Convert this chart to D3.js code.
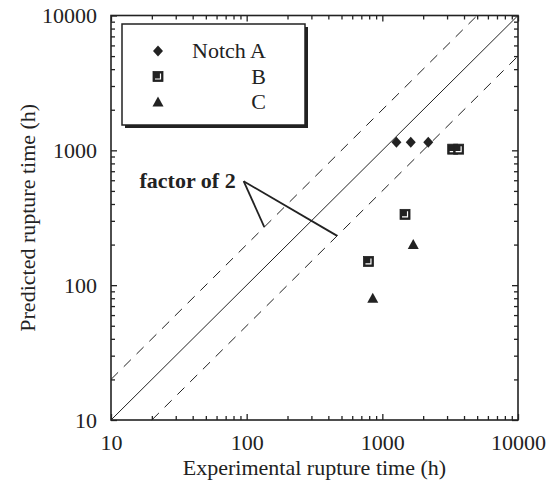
<!DOCTYPE html>
<html>
<head>
<meta charset="utf-8">
<script src="https://cdn.jsdelivr.net/npm/d3@7"></script>
<style>
  body { margin: 0; background: #fff; }
  text { font-family: "Liberation Serif", "Times New Roman", serif; fill: #222; }
</style>
</head>
<body>
<div id="chart"></div>
<script>
// ---- data (experimental h, predicted h)
const notchA = [[1270, 1150], [1620, 1150], [2180, 1150]];
const notchB = [[3300, 1020], [3650, 1020], [1470, 335], [790, 150]];
const notchC = [[1690, 200], [850, 80]];
const majorTicks = [10, 100, 1000, 10000];
const legendLabels = ["Notch A", "B", "C"];
// reference lines y = ratio * x
const refLines = [
  { ratio: 1, from: 10, to: 10000, dashed: false },
  { ratio: 2, from: 10, to: 5000, dashed: true },
  { ratio: 0.5, from: 20, to: 10000, dashed: true }
];
const factorText = "factor of 2";
const factorApex = [95, 590];
const factorTargets = [[135, 270], [465, 232]];

// ---- layout
const W = 560, H = 492;
const margin = { top: 15.5, right: 42, bottom: 72, left: 111 };
const width = W - margin.left - margin.right;
const height = H - margin.top - margin.bottom;
const ink = "#222";

const svg = d3.select("#chart").append("svg")
  .attr("width", W).attr("height", H);
const g = svg.append("g")
  .attr("transform", `translate(${margin.left},${margin.top})`);

const x = d3.scaleLog().domain([10, 10000]).range([0, width]);
const y = d3.scaleLog().domain([10, 10000]).range([height, 0]);

// minor ticks 2..9 per decade
const minorTicks = [];
[10, 100, 1000].forEach(d => { for (let k = 2; k <= 9; k++) minorTicks.push(d * k); });

function styleAxis(sel) {
  sel.select(".domain").remove();
  sel.selectAll("line").attr("stroke", ink).attr("stroke-width", 1.3);
}

// bottom
g.append("g").attr("transform", `translate(0,${height})`)
  .call(d3.axisBottom(x).tickValues(majorTicks).tickSize(-6).tickPadding(14).tickFormat(d3.format("d")))
  .call(styleAxis)
  .selectAll("text").attr("font-size", 22).attr("fill", ink)
  .style("font-family", '"Liberation Serif", serif');
g.append("g").attr("transform", `translate(0,${height})`)
  .call(d3.axisBottom(x).tickValues(minorTicks).tickSize(-4).tickFormat(""))
  .call(styleAxis);
// top
g.append("g")
  .call(d3.axisTop(x).tickValues(majorTicks).tickSize(-6).tickFormat(""))
  .call(styleAxis);
g.append("g")
  .call(d3.axisTop(x).tickValues(minorTicks).tickSize(-4).tickFormat(""))
  .call(styleAxis);
// left
g.append("g")
  .call(d3.axisLeft(y).tickValues(majorTicks).tickSize(-6).tickPadding(14).tickFormat(d3.format("d")))
  .call(styleAxis)
  .selectAll("text").attr("font-size", 22).attr("fill", ink)
  .style("font-family", '"Liberation Serif", serif');
g.append("g")
  .call(d3.axisLeft(y).tickValues(minorTicks).tickSize(-4).tickFormat(""))
  .call(styleAxis);
// right
g.append("g").attr("transform", `translate(${width},0)`)
  .call(d3.axisRight(y).tickValues(majorTicks).tickSize(-6).tickFormat(""))
  .call(styleAxis);
g.append("g").attr("transform", `translate(${width},0)`)
  .call(d3.axisRight(y).tickValues(minorTicks).tickSize(-4).tickFormat(""))
  .call(styleAxis);

// frame
g.append("rect")
  .attr("width", width).attr("height", height)
  .attr("fill", "none").attr("stroke", ink).attr("stroke-width", 1.6);

// reference lines
refLines.forEach(l => {
  g.append("line")
    .attr("x1", x(l.from)).attr("y1", y(l.from * l.ratio))
    .attr("x2", x(l.to)).attr("y2", y(l.to * l.ratio))
    .attr("stroke", ink).attr("stroke-width", 1)
    .attr("stroke-dasharray", l.dashed ? "10,8" : null);
});

// annotation
g.append("text")
  .attr("x", x(factorApex[0]) - 8).attr("y", y(factorApex[1]) + 7)
  .attr("text-anchor", "end")
  .attr("font-size", 22).attr("font-weight", "bold")
  .text(factorText);
factorTargets.forEach(t => {
  g.append("line")
    .attr("x1", x(factorApex[0])).attr("y1", y(factorApex[1]))
    .attr("x2", x(t[0])).attr("y2", y(t[1]))
    .attr("stroke", ink).attr("stroke-width", 1.8);
});

// markers
function diamond(sel, cx, cy) {
  sel.append("path")
    .attr("d", `M${cx},${cy - 5.5}L${cx + 5},${cy}L${cx},${cy + 5.5}L${cx - 5},${cy}Z`)
    .attr("fill", ink);
}
function square(sel, cx, cy) {
  sel.append("rect")
    .attr("x", cx - 5).attr("y", cy - 5).attr("width", 10).attr("height", 10)
    .attr("fill", ink).attr("stroke", ink).attr("stroke-width", 0.8);
  sel.append("path")
    .attr("d", `M${cx - 3},${cy + 2.5}L${cx + 2.5},${cy + 2.5}L${cx + 2.5},${cy - 3}`)
    .attr("fill", "none").attr("stroke", "#fff").attr("stroke-width", 1.2);
}
function triangle(sel, cx, cy) {
  sel.append("path")
    .attr("d", `M${cx},${cy - 5.5}L${cx + 5.5},${cy + 4.5}L${cx - 5.5},${cy + 4.5}Z`)
    .attr("fill", ink);
}

const pts = g.append("g");
notchA.forEach(d => diamond(pts, x(d[0]), y(d[1])));
notchB.forEach(d => square(pts, x(d[0]), y(d[1])));
notchC.forEach(d => triangle(pts, x(d[0]), y(d[1])));

// legend
const lg = svg.append("g").attr("transform", "translate(122,24)");
lg.append("rect").attr("x", 3).attr("y", 3).attr("width", 183).attr("height", 101).attr("fill", ink);
lg.append("rect").attr("width", 183).attr("height", 101)
  .attr("fill", "#fff").attr("stroke", ink).attr("stroke-width", 1.5);
const markFns = [diamond, square, triangle];
legendLabels.forEach((lab, i) => {
  const cy = 27 + i * 25.5;
  markFns[i](lg, 36, cy);
  lg.append("text")
    .attr("x", 144).attr("y", cy + 7)
    .attr("text-anchor", "end")
    .attr("font-size", 22)
    .text(lab);
});

// axis titles
svg.append("text")
  .attr("x", margin.left + width / 2).attr("y", 475)
  .attr("text-anchor", "middle").attr("font-size", 22)
  .text("Experimental rupture time (h)");
svg.append("text")
  .attr("transform", `translate(35,${margin.top + height / 2}) rotate(-90)`)
  .attr("text-anchor", "middle").attr("font-size", 22)
  .text("Predicted rupture time (h)");
</script>
</body>
</html>
